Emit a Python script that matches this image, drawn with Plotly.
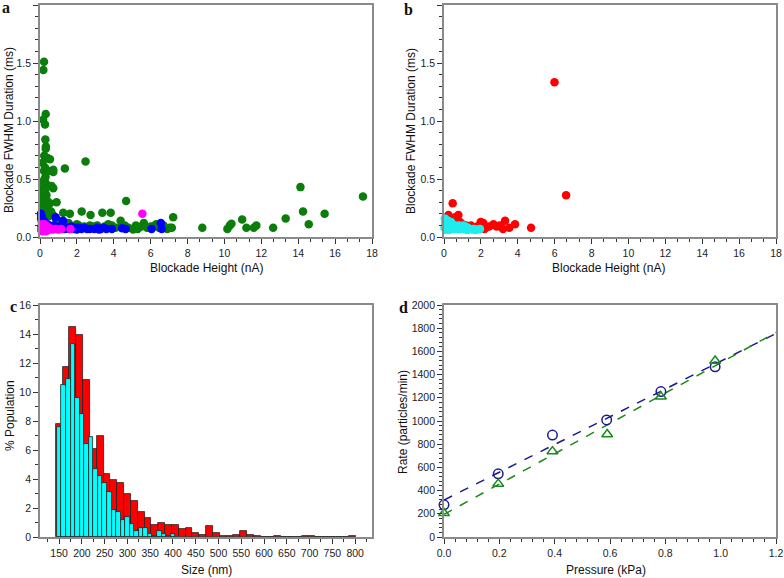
import numpy as np
import plotly.graph_objects as go

# ---------------- Panel a: scatter ----------------
green_x = [0.22,0.18,0.31,0.17,0.27,0.29,0.32,0.31,0.23,0.41,0.54,0.14,0.72,0.72,1.35,0.27,0.22,0.35,0.47,0.30,
           0.25,0.18,0.33,0.23,0.63,0.72,0.15,0.28,0.20,0.35,0.16,0.26,0.40,0.20,0.54,0.90,0.30,0.15,0.24,0.42,
           0.60,0.18,0.32,0.54,0.70,0.22,0.45,0.13,0.85,1.26,1.62,2.26,2.74,3.38,3.83,4.67,4.37,2.47,1.20,1.00,
           0.95,1.55,1.80,2.10,2.40,2.90,3.10,3.50,3.90,4.10,4.40,4.80,5.05,5.30,5.50,5.63,5.80,6.00,6.14,6.30,
           6.45,6.70,6.90,7.04,7.15,7.22,8.80,10.16,10.29,10.38,10.96,11.19,11.59,11.73,12.64,13.32,14.12,14.26,14.57,15.43,
           17.51,5.20,4.60,3.70,2.70,2.00,1.40]
green_y = [1.51,1.44,1.06,1.01,0.97,0.84,0.78,0.76,0.70,0.68,0.67,0.64,0.58,0.56,0.59,0.60,0.57,0.57,0.57,0.52,
           0.50,0.48,0.46,0.44,0.44,0.42,0.42,0.40,0.38,0.36,0.34,0.32,0.31,0.30,0.29,0.30,0.28,0.27,0.25,0.24,
           0.22,0.22,0.21,0.20,0.19,0.19,0.18,0.17,0.16,0.21,0.20,0.22,0.19,0.21,0.21,0.31,0.14,0.65,0.13,0.14,
           0.12,0.12,0.09,0.10,0.09,0.09,0.10,0.09,0.10,0.08,0.09,0.08,0.065,0.07,0.09,0.12,0.08,0.09,0.09,0.11,
           0.08,0.10,0.07,0.08,0.08,0.17,0.08,0.07,0.10,0.115,0.15,0.08,0.08,0.10,0.08,0.16,0.43,0.22,0.11,0.20,
           0.35,0.10,0.10,0.11,0.10,0.11,0.10]

blue_x = [0.05,0.08,0.06,0.12,0.10,0.20,0.15,0.30,0.25,0.40,0.50,0.60,0.75,0.85,0.90,1.05,1.25,1.15,1.35,1.50,
          1.70,1.85,1.95,2.10,2.25,2.40,2.55,2.70,2.95,3.10,3.30,3.45,3.60,3.90,4.45,4.65,6.05,6.55,6.60,0.35,
          0.18,0.08,1.60,2.00,3.20]
blue_y = [0.20,0.18,0.16,0.15,0.13,0.14,0.11,0.12,0.10,0.11,0.10,0.09,0.10,0.17,0.08,0.09,0.14,0.08,0.07,0.08,
          0.09,0.07,0.08,0.08,0.07,0.08,0.07,0.07,0.07,0.08,0.07,0.08,0.07,0.07,0.075,0.07,0.07,0.12,0.07,0.07,
          0.07,0.09,0.07,0.065,0.065]

magenta_x = [5.55,0.06,0.10,0.14,0.18,0.22,0.25,0.28,0.32,0.36,0.40,0.45,0.50,0.55,0.62,0.70,0.80,0.90,1.00,1.15,
             1.65,0.12,0.30]
magenta_y = [0.20,0.06,0.08,0.05,0.09,0.06,0.11,0.08,0.05,0.09,0.07,0.06,0.08,0.07,0.07,0.065,0.07,0.07,0.065,0.07,
             0.07,0.11,0.10]

# ---------------- Panel b: scatter ----------------
red_x = [5.99,6.62,0.47,0.24,0.78,0.60,0.14,0.87,0.35,0.50,1.00,1.20,1.46,1.60,1.80,1.99,2.13,2.31,2.45,2.68,
         2.85,2.95,3.04,3.20,3.31,3.54,3.85,4.72,2.20,1.30,0.70,0.10]
red_y = [1.335,0.36,0.29,0.19,0.19,0.17,0.17,0.13,0.15,0.13,0.11,0.10,0.10,0.08,0.09,0.13,0.12,0.086,0.09,0.11,
         0.09,0.095,0.10,0.07,0.14,0.08,0.11,0.08,0.07,0.07,0.10,0.12]

cyan_x = [0.04,0.08,0.12,0.06,0.15,0.10,0.20,0.05,0.25,0.30,0.18,0.08,0.35,0.40,0.45,0.50,0.55,0.60,0.65,0.70,
          0.75,0.80,0.85,0.90,0.95,1.00,1.05,1.10,1.15,1.20,1.25,1.30,1.40,1.50,1.60,1.70,1.80,1.95,0.28,0.12,
          0.02,0.38,0.22]
cyan_y = [0.16,0.15,0.14,0.13,0.12,0.11,0.10,0.10,0.12,0.09,0.08,0.07,0.10,0.08,0.11,0.09,0.07,0.10,0.08,0.09,
          0.07,0.10,0.08,0.07,0.09,0.08,0.10,0.07,0.09,0.08,0.06,0.08,0.07,0.065,0.07,0.06,0.065,0.07,0.06,0.06,
          0.08,0.13,0.14]

# ---------------- Panel c: histograms ----------------
red_bins = [150,165,180,195,210,225,240,255,270,285,300,315,330,345,360,375,390,405,420,435,
            450,465,480,495,510,525,540,555,570,585,600,615,630,645,660,675,690,705,720,735,
            750,765,780,795]
red_pct = [7.8,11.7,14.5,13.9,10.8,6.1,7.0,4.35,3.9,3.7,3.0,2.45,1.7,1.3,0.85,1.0,0.85,0.85,0.55,0.6,
           0.25,0.15,0.75,0.3,0.07,0.08,0.15,0.38,0.15,0.05,0.0,0.0,0.08,0.0,0.0,0.0,0.08,0.08,0.0,0.0,
           0.0,0.0,0.0,0.08]
cyan_bins = [150,160,170,180,190,200,210,220,230,240,250,260,270,280,290,300,310,320,330,340,
             350,360,370,380,390,400]
cyan_pct = [7.6,10.5,10.9,13.3,9.6,8.5,6.4,6.9,4.7,4.2,3.75,3.1,1.86,1.75,1.17,1.36,0.9,0.43,0.64,0.64,
            0.2,0.1,0.43,0.2,0.05,0.2]
size_ticks = [150,200,250,300,350,400,450,500,550,600,650,700,750,800]

# ---------------- Panel d: rate vs pressure ----------------
pressure_circ = [0.0,0.196,0.392,0.588,0.784,0.98]
rate_circ = [277,545,879,1009,1254,1467]
pressure_tri = [0.0,0.196,0.392,0.59,0.784,0.98]
rate_tri = [205,458,738,885,1210,1519]
fit_x = [0.0, 1.2]

W, H = 784, 578
FONT = "Liberation Sans, Arial, sans-serif"
AX_LINE = "#8a8a8a"
TICK_C = "#333333"

def px(xp):
    return xp / W

def py(yp):
    return 1 - yp / H

fig = go.Figure()

mk = 8.5
fig.add_trace(go.Scatter(x=green_x, y=green_y, mode="markers", marker=dict(color="#0a7d0a", size=mk),
                         xaxis="x", yaxis="y", cliponaxis=False, showlegend=False))
fig.add_trace(go.Scatter(x=blue_x, y=blue_y, mode="markers", marker=dict(color="#0000ff", size=mk),
                         xaxis="x", yaxis="y", cliponaxis=False, showlegend=False))
fig.add_trace(go.Scatter(x=magenta_x, y=magenta_y, mode="markers", marker=dict(color="#ff00ff", size=mk),
                         xaxis="x", yaxis="y", cliponaxis=False, showlegend=False))

fig.add_trace(go.Scatter(x=red_x, y=red_y, mode="markers", marker=dict(color="#ff0000", size=mk),
                         xaxis="x2", yaxis="y2", cliponaxis=False, showlegend=False))
fig.add_trace(go.Scatter(x=cyan_x, y=cyan_y, mode="markers", marker=dict(color="#20ecec", size=mk),
                         xaxis="x2", yaxis="y2", cliponaxis=False, showlegend=False))

fig.add_trace(go.Bar(x=red_bins, y=red_pct, width=15, marker=dict(color="#ff0000", line=dict(color="#222", width=0.8)),
                     xaxis="x3", yaxis="y3", showlegend=False))
fig.add_trace(go.Bar(x=cyan_bins, y=cyan_pct, width=10, marker=dict(color="#00ffff", line=dict(color="#222", width=0.8)),
                     xaxis="x3", yaxis="y3", showlegend=False))

# linear fits computed from data
c1 = np.polyfit(pressure_circ, rate_circ, 1)
c2 = np.polyfit(pressure_tri, rate_tri, 1)
fig.add_trace(go.Scatter(x=fit_x, y=np.polyval(c1, fit_x), mode="lines",
                         line=dict(color="#1a1a8c", width=1.5, dash="dash"), xaxis="x4", yaxis="y4", showlegend=False))
fig.add_trace(go.Scatter(x=fit_x, y=np.polyval(c2, fit_x), mode="lines",
                         line=dict(color="#1a8a1a", width=1.5, dash="dash"), xaxis="x4", yaxis="y4", showlegend=False))
fig.add_trace(go.Scatter(x=pressure_circ, y=rate_circ, mode="markers",
                         marker=dict(symbol="circle-open", color="#1a1a8c", size=9.5, line=dict(width=1.5)),
                         xaxis="x4", yaxis="y4", cliponaxis=False, showlegend=False))
fig.add_trace(go.Scatter(x=pressure_tri, y=rate_tri, mode="markers",
                         marker=dict(symbol="triangle-up-open", color="#1a8a1a", size=9.5, line=dict(width=1.5)),
                         xaxis="x4", yaxis="y4", cliponaxis=False, showlegend=False))

def axis(domain, rng, dtick, tick0, minor_dtick, fmt=None, anchor=None):
    d = dict(domain=domain, range=rng, dtick=dtick, tick0=tick0, showgrid=False, zeroline=False,
             showline=True, linecolor=AX_LINE, linewidth=1.8, mirror=True, automargin=False,
             ticks="outside", ticklen=5, tickwidth=1, tickcolor=TICK_C,
             tickfont=dict(family=FONT, size=10.5, color="#222"),
             minor=dict(dtick=minor_dtick, tick0=tick0, ticks="outside", ticklen=3, tickwidth=1, tickcolor=TICK_C),
             anchor=anchor, fixedrange=True)
    if fmt:
        d["tickformat"] = fmt
    return d

xa = [px(40), px(372)]
xb = [px(444), px(776)]
ytop = [py(237), py(5)]
ybot = [py(537), py(305)]

fig.update_layout(
    width=W, height=H, autosize=False,
    margin=dict(l=0, r=0, t=0, b=0, pad=0, autoexpand=False),
    paper_bgcolor="white", plot_bgcolor="white",
    barmode="overlay", bargap=0,
    xaxis=axis(xa, [0, 18], 2, 0, 2/3, anchor="y"),
    yaxis=axis(ytop, [0, 2], 0.5, 0, 0.1, fmt=".1f", anchor="x"),
    xaxis2=axis(xb, [0, 18], 2, 0, 2/3, anchor="y2"),
    yaxis2=axis(ytop, [0, 2], 0.5, 0, 0.1, fmt=".1f", anchor="x2"),
    xaxis3=axis(xa, [108, 837], 50, 0, 25, anchor="y3"),
    yaxis3=axis(ybot, [0, 16], 2, 0, 1, anchor="x3"),
    xaxis4=axis(xb, [0, 1.2], 0.2, 0, 0.04, fmt=".1f", anchor="y4"),
    yaxis4=axis(ybot, [0, 2000], 200, 0, 40, anchor="x4"),
)
fig.update_layout(xaxis3=dict(tickmode="array", tickvals=size_ticks))

annotations = []
def text(x, y, s, size=12, angle=0, family=FONT):
    annotations.append(dict(x=px(x), y=py(y), xref="paper", yref="paper", text=s, showarrow=False,
                            textangle=angle, xanchor="center", yanchor="middle",
                            font=dict(family=family, size=size, color="#111")))

text(206, 268, "Blockade Height (nA)")
text(9, 130, "Blockade FWHM Duration (ms)", angle=-90)
text(608, 268, "Blockade Height (nA)")
text(411, 131, "Blockade FWHM Duration (ms)", angle=-90)
text(207, 570, "Size (nm)")
text(10, 416, "% Population", angle=-90)
text(606, 570, "Pressure (kPa)")
text(403, 422, "Rate (particles/min)", angle=-90)

SERIF = "Liberation Serif, Times New Roman, serif"
text(6, 8, "<b>a</b>", size=16, family=SERIF)
text(408, 9, "<b>b</b>", size=16, family=SERIF)
text(13, 306, "<b>c</b>", size=16, family=SERIF)
text(403, 307, "<b>d</b>", size=16, family=SERIF)

fig.update_layout(annotations=annotations)
fig.write_html("out.html", config={"displayModeBar": False},
               post_script="document.body.style.margin='0';document.body.style.padding='0';"
                           "document.body.style.overflow='hidden';")
